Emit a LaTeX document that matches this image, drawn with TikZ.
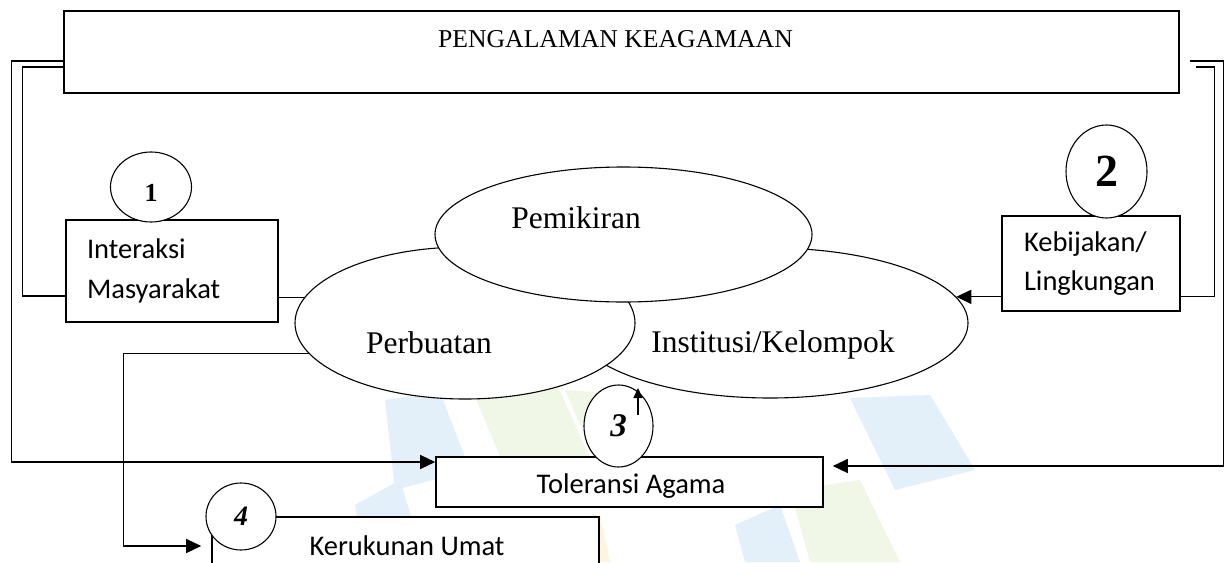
\documentclass[tikz,border=0pt]{standalone}
\usepackage{fontspec}
\setmainfont{Liberation Serif}
\newfontfamily\kotakfont{Carlito}
\usetikzlibrary{arrows.meta,shapes.geometric}
\definecolor{tandabiru}{HTML}{E4F0F9}
\definecolor{tandahijau}{HTML}{F1F7E6}
\definecolor{tandakuning}{HTML}{FDF5E0}

\begin{document}
\begin{tikzpicture}[x=1pt,y=-1pt,
  kotak/.style={draw,line width=1.6pt,fill=white,inner sep=0pt},
  elips/.style={draw,ellipse,line width=1.1pt,fill=white,inner sep=0pt},
  nomor/.style={draw,ellipse,line width=1.1pt,fill=white,inner sep=0pt},
  teksserif/.style={anchor=base,inner sep=0pt,font=\fontsize{31.5}{36}\selectfont},
  tekskotak/.style={font=\kotakfont\fontsize{28.5}{39.5}\selectfont},
  garis/.style={line width=1.3pt},
  panah/.style={line width=1.3pt,-{Triangle[length=15pt,width=14pt]}}]
\useasboundingbox (0,0) rectangle (1230,562);
\fill[white] (0,0) rectangle (1230,562);

\fill[tandabiru] (385,400) -- (440,392) -- (470,470) -- (395,490) -- cycle;
\fill[tandabiru] (355,505) -- (400,480) -- (425,562) -- (365,562) -- cycle;
\fill[tandahijau] (470,385) -- (555,380) -- (600,480) -- (510,480) -- cycle;
\fill[tandahijau] (565,390) -- (640,395) -- (620,470) -- (600,470) -- cycle;
\fill[tandabiru] (850,398) -- (930,395) -- (975,470) -- (895,490) -- cycle;
\fill[tandahijau] (790,490) -- (860,480) -- (900,562) -- (810,562) -- cycle;
\fill[tandabiru] (735,525) -- (780,505) -- (800,562) -- (745,562) -- cycle;
\fill[tandakuning] (530,520) -- (600,515) -- (610,562) -- (540,562) -- cycle;

\node[kotak,minimum width=1115pt,minimum height=82pt] (judul) at (621.5,52) {};
\node[anchor=base,inner sep=0pt,font=\fontsize{25.7}{30}\selectfont] (judulteks) at (615.5,47) {PENGALAMAN KEAGAMAAN};

\node[elips,minimum width=396pt,minimum height=150pt] (institusi) at (770,323) {};
\node[elips,minimum width=340pt,minimum height=152pt] (perbuatan) at (465,323) {};
\node[elips,minimum width=377pt,minimum height=135pt] (pemikiran) at (623.5,234.5) {};
\node[teksserif] (pemikiranteks) at (576,228) {Pemikiran};
\node[teksserif] (perbuatanteks) at (429,353) {Perbuatan};
\node[teksserif] (institusiteks) at (773,352) {Institusi/Kelompok};

\node[kotak,tekskotak,minimum height=102pt,text width=170pt,inner xsep=21pt,align=left] (interaksi) at (172,271) {Interaksi\\Masyarakat};
\node[kotak,tekskotak,minimum height=95pt,text width=134pt,inner xsep=22pt,align=left] (kebijakan) at (1091,263.5) {Kebijakan/\\Lingkungan};

\node[kotak,minimum width=387pt,minimum height=50pt] (toleransi) at (629.5,482) {};
\begin{scope}
\clip ([yshift=10pt]toleransi.south west) rectangle (toleransi.north east);
\node[tekskotak,anchor=base,inner sep=0pt] (toleransiteks) at (631,493) {Toleransi Agama};
\end{scope}

\node[kotak,minimum width=387pt,minimum height=83pt] (kerukunan) at (405.5,558.5) {};
\node[tekskotak,anchor=base,inner sep=0pt] (kerukunanteks) at (407,555) {Kerukunan Umat};

\node[nomor,minimum width=81pt,minimum height=70pt,font=\bfseries\fontsize{26}{26}\selectfont] (satu) at (151,187) {\raisebox{-6pt}[\height][\depth]{1}};
\node[nomor,minimum width=81pt,minimum height=93pt,font=\bfseries\fontsize{46}{46}\selectfont] (dua) at (1106.5,171.5) {2};
\node[nomor,minimum width=69pt,minimum height=82pt,font=\bfseries\itshape\fontsize{33}{33}\selectfont] (tiga) at (618.5,426) {3};
\node[nomor,minimum width=70pt,minimum height=67pt,font=\bfseries\itshape\fontsize{28}{28}\selectfont] (empat) at (241,516.5) {4};

\draw[panah] ([yshift=-9pt]judul.west) -- ++(-52,0) |- ([yshift=20pt]toleransi.west);
\draw[garis] ([yshift=-15pt]judul.west) -- ++(-41,0) |- ([yshift=-25pt]interaksi.west);
\draw[garis] (interaksi.east |- perbuatan.171) -- (perbuatan.171);
\draw[panah,shorten >=9pt] ([xshift=10pt,yshift=-9pt]judul.east) -- ++(34,0) |- ([yshift=16pt]toleransi.east);
\draw[garis] ([xshift=16pt,yshift=-15pt]judul.east) -- ++(19,0) |- (kebijakan.east |- institusi.8);
\draw[panah] (kebijakan.west |- institusi.8) -- (institusi.8);
\draw[panah,shorten >=10pt] (perbuatan.191) -- ++(-185,0) |- ([yshift=12.5pt]kerukunan.west);
\coordinate (tigapangkal) at (638,415);
\coordinate (tigaujung) at (638,388);
\draw[line width=1.5pt,-{Triangle[length=10pt,width=9pt]}] (tigapangkal) -- (tigaujung);
\end{tikzpicture}
\end{document}
